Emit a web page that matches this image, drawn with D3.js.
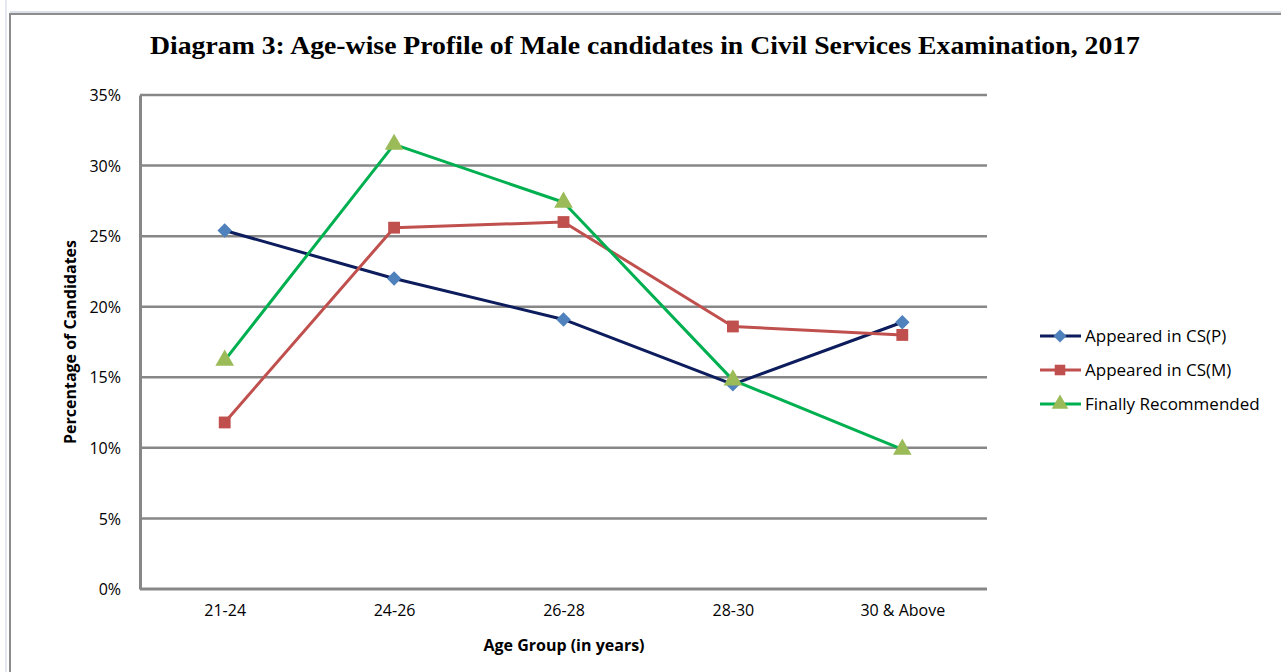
<!DOCTYPE html>
<html>
<head>
<meta charset="utf-8">
<script src="https://cdn.jsdelivr.net/npm/d3@7"></script>
<style>
  body { margin: 0; background: #fff; }
  svg text { font-family: "Open Sans", "Noto Sans", sans-serif; fill: #000; }
</style>
</head>
<body>
<div id="chart"></div>
<script>
// data (percent of candidates)
var ageGroups = ["21-24", "24-26", "26-28", "28-30", "30 & Above"];
var appearedPrelims = [25.4, 22.0, 19.1, 14.5, 18.9];
var appearedMains = [11.8, 25.6, 26.0, 18.6, 18.0];
var finallyRecommended = [16.2, 31.5, 27.4, 14.8, 9.9];
var yTicks = [0, 5, 10, 15, 20, 25, 30, 35];

var seriesNames = ["Appeared in CS(P)", "Appeared in CS(M)", "Finally Recommended"];
// diamond = square turned 45deg, like the spreadsheet marker
var series = [
  {name: seriesNames[0], values: appearedPrelims, line: "#0c1c5c", marker: "#4f81bd", shape: d3.symbolSquare, size: 105, rot: 45},
  {name: seriesNames[1], values: appearedMains, line: "#c0504d", marker: "#c0504d", shape: d3.symbolSquare, size: 140, rot: 0},
  {name: seriesNames[2], values: finallyRecommended, line: "#00b050", marker: "#9bbb59", shape: d3.symbolTriangle, size: 150, rot: 0}
];

var W = 1281, H = 672;
var svg = d3.select("#chart").append("svg").attr("width", W).attr("height", H);

// frame of the chart object
svg.append("line").attr("x1", 6).attr("x2", 6).attr("y1", 0).attr("y2", H).attr("stroke", "#c9d3e3").attr("stroke-width", 1);
svg.append("line").attr("x1", 10).attr("x2", W).attr("y1", 12).attr("y2", 12).attr("stroke", "#b8c2d2").attr("stroke-width", 1);
svg.append("line").attr("x1", 10).attr("x2", W).attr("y1", 14).attr("y2", 14).attr("stroke", "#8c8c8c").attr("stroke-width", 2);
svg.append("line").attr("x1", 10).attr("x2", 10).attr("y1", 13).attr("y2", H).attr("stroke", "#8c8c8c").attr("stroke-width", 2);

var plotLeft = 140, plotRight = 987, plotTop = 95, plotBottom = 589;

var x = d3.scalePoint().domain(ageGroups).range([plotLeft, plotRight]).padding(0.5);
var y = d3.scaleLinear().domain([0, 35]).range([plotBottom, plotTop]);

// title
svg.append("text")
  .attr("x", 150).attr("y", 54)
  .attr("textLength", 990).attr("lengthAdjust", "spacingAndGlyphs")
  .style("font-family", "'Liberation Serif', 'Times New Roman', serif")
  .style("font-weight", "bold")
  .style("font-size", "26px")
  .text("Diagram 3: Age-wise Profile of Male candidates in Civil Services Examination, 2017");

// gridlines
svg.append("g").selectAll("line").data(yTicks.filter(function(d) { return d > 0; })).enter().append("line")
  .attr("x1", plotLeft).attr("x2", plotRight)
  .attr("y1", function(d) { return y(d); }).attr("y2", function(d) { return y(d); })
  .attr("stroke", "#878787").attr("stroke-width", 2.5);

// axes
var yAxis = svg.append("g").attr("transform", "translate(" + plotLeft + ",0)")
  .call(d3.axisLeft(y).tickValues(yTicks).tickSize(0).tickPadding(19).tickFormat(function(d) { return d + "%"; }));
yAxis.select(".domain").attr("stroke", "#878787").attr("stroke-width", 3);
yAxis.selectAll("text").style("font-size", "16px").attr("dy", "0.35em");

var xAxis = svg.append("g").attr("transform", "translate(0," + plotBottom + ")")
  .call(d3.axisBottom(x).tickSize(0).tickPadding(16));
xAxis.select(".domain").attr("stroke", "#878787").attr("stroke-width", 3).attr("d", "M" + plotLeft + ",0H" + plotRight);
xAxis.selectAll("text").style("font-size", "16px");

// axis titles
svg.append("text")
  .attr("transform", "translate(76," + ((plotTop + plotBottom) / 2) + ") rotate(-90)")
  .attr("text-anchor", "middle")
  .style("font-size", "16px").style("font-weight", "bold")
  .text("Percentage of Candidates");

svg.append("text")
  .attr("x", 564).attr("y", 651)
  .attr("text-anchor", "middle")
  .style("font-size", "16px").style("font-weight", "bold")
  .text("Age Group  (in years)");

// lines + markers
var line = d3.line().x(function(d, i) { return x(ageGroups[i]); }).y(function(d) { return y(d); });

series.forEach(function(s) {
  svg.append("path").datum(s.values)
    .attr("d", line).attr("fill", "none")
    .attr("stroke", s.line).attr("stroke-width", 3).attr("stroke-linejoin", "round");
});
series.forEach(function(s) {
  svg.append("g").selectAll("path").data(s.values).enter().append("path")
    .attr("d", d3.symbol().type(s.shape).size(s.size))
    .attr("transform", function(d, i) { return "translate(" + x(ageGroups[i]) + "," + y(d) + ") rotate(" + s.rot + ")"; })
    .attr("fill", s.marker);
});

// legend
var legend = svg.append("g").attr("transform", "translate(1040,336)");
var rows = legend.selectAll("g").data(series).enter().append("g")
  .attr("transform", function(d, i) { return "translate(0," + (i * 34) + ")"; });
rows.append("line").attr("x1", 0).attr("x2", 41).attr("y1", 0).attr("y2", 0)
  .attr("stroke", function(d) { return d.line; }).attr("stroke-width", 3);
rows.append("path")
  .attr("d", function(d) { return d3.symbol().type(d.shape).size(d.size * 0.8)(); })
  .attr("transform", function(d) { return "translate(20,0) rotate(" + d.rot + ")"; })
  .attr("fill", function(d) { return d.marker; });
rows.append("text").attr("x", 45).attr("dy", "0.35em")
  .style("font-size", "17px")
  .text(function(d) { return d.name; });
</script>
</body>
</html>
